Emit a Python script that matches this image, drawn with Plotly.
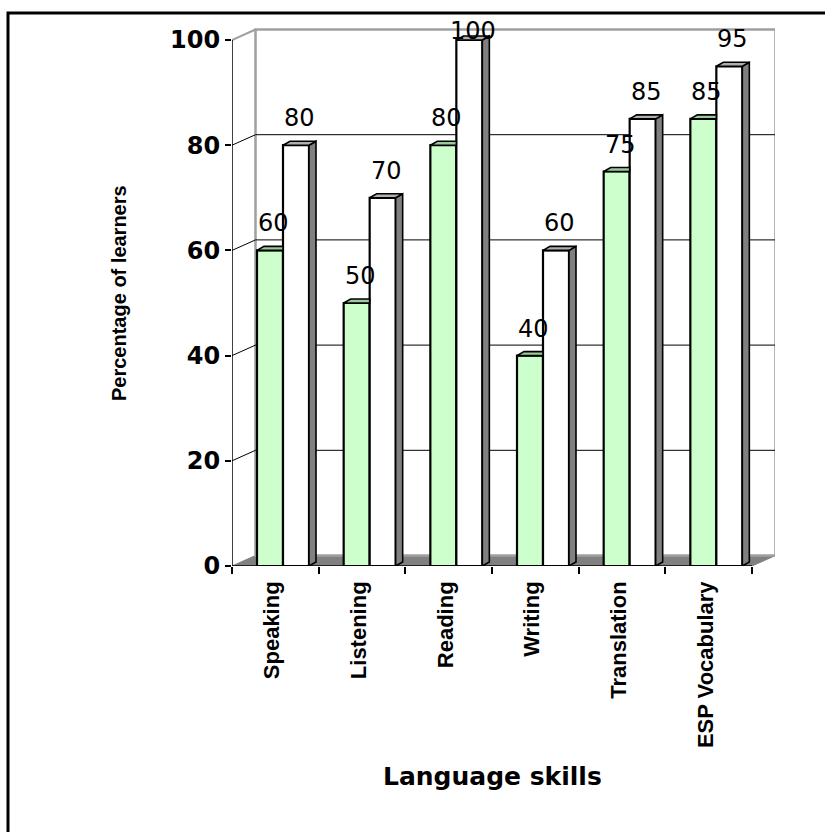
import plotly.graph_objects as go

categories = ["Speaking", "Listening", "Reading", "Writing", "Translation", "ESP Vocabulary"]
series_a = [60, 50, 80, 40, 75, 85]     # green bars
series_b = [80, 70, 100, 60, 85, 95]    # white bars
y_ticks = [0, 20, 40, 60, 80, 100]

W, H = 825, 832
PL, PB = 232, 566          # plot area left / bottom (px)
PR, PT = 775, 28           # plot area right / top (px)
UX = 520 / 6               # px per category
UY = 526 / 100             # px per percent
DXP, DYP = 23.5, 10.5      # depth of the 3D box (px)
BSX, BSY = 7, 4            # depth of each bar (px)
LBL = 11                   # label box gap above bar (px)
LBL_TOP = 7                # label box bottom below the 100 line (px), when clamped

DX, DY = DXP / UX, DYP / UY
SX, SY = BSX / UX, BSY / UY
n = len(categories)
xr = [-0.5, -0.5 + (PR - PL) / UX]
yr = [0, (PB - PT) / UY]
XL, XR = -0.5, n - 0.5
BW = 0.3
OFF_A, OFF_B = -0.2115, 0.0885


def px_x(p):
    return (p - PL) / (PR - PL)


def px_y(p):
    return (PB - p) / (PB - PT)


fig = go.Figure()

fig.add_trace(go.Bar(x=list(range(n)), y=series_a, width=BW, offset=OFF_A,
                     marker=dict(color="#CCFFCC", line=dict(color="black", width=2.2)),
                     name="A", hoverinfo="y"))
fig.add_trace(go.Bar(x=list(range(n)), y=series_b, width=BW, offset=OFF_B,
                     marker=dict(color="#FFFFFF", line=dict(color="black", width=2.2)),
                     name="B", hoverinfo="y"))

# 3D faces
sx_, sy_ = [], []
tbx, tby = [], []
tax, tay = [], []
for i in range(n):
    va, vb = series_a[i], series_b[i]
    r = i + OFF_B + BW
    sx_ += [r, r + SX, r + SX, r, r, None]
    sy_ += [0, SY, vb + SY, vb, 0, None]
    l = i + OFF_B
    tbx += [l, l + SX, r + SX, r, l, None]
    tby += [vb, vb + SY, vb + SY, vb, vb, None]
    la = i + OFF_A
    ra = la + BW
    tax += [la, la + SX, ra, ra, la, None]
    tay += [va, va + SY, va + SY, va, va, None]

face_line = dict(color="black", width=1.6)
fig.add_trace(go.Scatter(x=sx_, y=sy_, fill="toself", fillcolor="#808080", mode="lines",
                         line=face_line, hoverinfo="skip"))
fig.add_trace(go.Scatter(x=tbx, y=tby, fill="toself", fillcolor="#B0B0B0", mode="lines",
                         line=face_line, hoverinfo="skip"))
fig.add_trace(go.Scatter(x=tax, y=tay, fill="toself", fillcolor="#99CC99", mode="lines",
                         line=face_line, hoverinfo="skip"))

shapes = []
# floor
shapes.append(dict(type="path", xref="x", yref="y", layer="below",
                   path=f"M {XL},0 L {XR},0 L {XR + DX},{DY} L {XL + DX},{DY} Z",
                   fillcolor="#808080", line=dict(color="#808080", width=1)))
# back wall
shapes.append(dict(type="rect", xref="x", yref="y", layer="below",
                   x0=XL + DX, x1=XR + DX, y0=DY, y1=100 + DY,
                   fillcolor="white", line=dict(color="#A0A0A0", width=2.5)))
# gridlines on back wall and diagonals on left wall
for v in y_ticks[1:-1]:
    shapes.append(dict(type="line", xref="x", yref="y", layer="below",
                       x0=XL + DX, x1=XR + DX, y0=v + DY, y1=v + DY,
                       line=dict(color="black", width=1)))
    shapes.append(dict(type="line", xref="x", yref="y", layer="below",
                       x0=XL, x1=XL + DX, y0=v, y1=v + DY,
                       line=dict(color="black", width=1)))
shapes.append(dict(type="line", xref="x", yref="y", layer="below",
                   x0=XL, x1=XL + DX, y0=100, y1=100 + DY,
                   line=dict(color="#A0A0A0", width=2)))
# front axis lines
shapes.append(dict(type="line", xref="x", yref="y", x0=XL, x1=XL, y0=0, y1=100,
                   line=dict(color="black", width=1.5)))
shapes.append(dict(type="line", xref="x", yref="y", x0=XL, x1=XR, y0=0, y1=0,
                   line=dict(color="black", width=1.5)))
# outer frame
shapes.append(dict(type="rect", xref="paper", yref="paper",
                   x0=px_x(8), x1=px_x(840), y0=px_y(13), y1=px_y(850),
                   line=dict(color="black", width=3)))

annotations = []
ymax_lbl = 100 - LBL_TOP / UY
for i in range(n):
    for vals, off in ((series_a, OFF_A), (series_b, OFF_B)):
        v = vals[i]
        annotations.append(dict(x=i + off + BW / 2 + SX / 2, y=min(v + LBL / UY, ymax_lbl),
                                xref="x", yref="y", text=str(v), showarrow=False,
                                yanchor="bottom", xanchor="center",
                                font=dict(family="DejaVu Sans", size=24, color="black")))
annotations.append(dict(x=px_x(119), y=px_y(293), xref="paper", yref="paper",
                        xanchor="center", yanchor="middle",
                        text="Percentage of learners", textangle=-90, showarrow=False,
                        font=dict(family="Liberation Sans", size=20, color="black",
                                  weight="bold")))
annotations.append(dict(x=px_x(492), y=px_y(776), xref="paper", yref="paper",
                        xanchor="center", yanchor="middle",
                        text="Language skills", showarrow=False,
                        font=dict(family="DejaVu Sans", size=25, color="black",
                                  weight="bold")))

fig.update_layout(
    width=W, height=H,
    margin=dict(l=PL, r=W - PR, t=PT, b=H - PB, pad=0),
    paper_bgcolor="white", plot_bgcolor="white",
    showlegend=False, barmode="overlay",
    shapes=shapes, annotations=annotations,
    xaxis=dict(range=xr, tickmode="array", tickvals=list(range(n)), ticktext=categories,
               tickangle=-90, ticks="", showgrid=False, zeroline=False, showline=False,
               ticklabelstandoff=10, ticklabelshift=-3,
               tickfont=dict(family="Liberation Sans", size=22, color="black", weight="bold"),
               minor=dict(tickmode="array", tickvals=[i - 0.5 for i in range(n + 1)],
                          ticks="outside", ticklen=7, tickwidth=1.5, tickcolor="black",
                          showgrid=False)),
    yaxis=dict(range=yr, tickmode="array", tickvals=y_ticks, ticks="outside", ticklen=6,
               tickwidth=1.5, tickcolor="black", showgrid=False, zeroline=False,
               showline=False,
               tickfont=dict(family="DejaVu Sans", size=24, color="black", weight="bold")),
)

fig.write_html("out.html")
